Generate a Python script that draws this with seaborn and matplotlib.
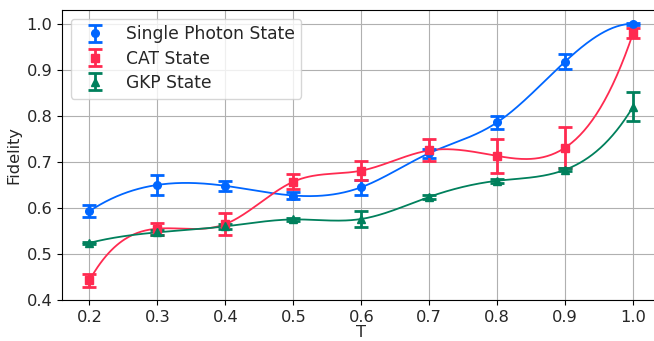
import numpy as np
import pandas as pd
import matplotlib
matplotlib.use("Agg")
import matplotlib.pyplot as plt
import seaborn as sns

T = [0.2, 0.3, 0.4, 0.5, 0.6, 0.7, 0.8, 0.9, 1.0]
single_photon = [0.593, 0.650, 0.648, 0.627, 0.645, 0.719, 0.786, 0.918, 1.000]
single_photon_err = [0.013, 0.021, 0.011, 0.008, 0.016, 0.010, 0.014, 0.016, 0.002]
cat = [0.443, 0.555, 0.565, 0.657, 0.681, 0.725, 0.713, 0.731, 0.980]
cat_err = [0.014, 0.013, 0.024, 0.016, 0.020, 0.024, 0.037, 0.044, 0.010]
gkp = [0.524, 0.547, 0.560, 0.575, 0.576, 0.624, 0.659, 0.683, 0.820]
gkp_err = [0.003, 0.005, 0.005, 0.004, 0.017, 0.004, 0.004, 0.003, 0.031]

labels = ["Single Photon State", "CAT State", "GKP State"]
colors = ["#0066ff", "#ff2a50", "#00805c"]
markers = ["o", "s", "^"]


def spline(x, y, xs):
    x = np.asarray(x, float)
    y = np.asarray(y, float)
    n = len(x)
    h = np.diff(x)
    A = np.zeros((n, n))
    b = np.zeros(n)
    # not-a-knot
    A[0, 0] = h[1]; A[0, 1] = -(h[0] + h[1]); A[0, 2] = h[0]
    A[-1, -3] = h[-1]; A[-1, -2] = -(h[-2] + h[-1]); A[-1, -1] = h[-2]
    for i in range(1, n - 1):
        A[i, i - 1] = h[i - 1]
        A[i, i] = 2 * (h[i - 1] + h[i])
        A[i, i + 1] = h[i]
        b[i] = 6 * ((y[i + 1] - y[i]) / h[i] - (y[i] - y[i - 1]) / h[i - 1])
    M = np.linalg.solve(A, b)
    idx = np.clip(np.searchsorted(x, xs) - 1, 0, n - 2)
    x0, x1 = x[idx], x[idx + 1]
    hh = x1 - x0
    return (M[idx] * (x1 - xs) ** 3 / (6 * hh) + M[idx + 1] * (xs - x0) ** 3 / (6 * hh)
            + (y[idx] / hh - M[idx] * hh / 6) * (x1 - xs)
            + (y[idx + 1] / hh - M[idx + 1] * hh / 6) * (xs - x0))


sns.set_style("ticks")
plt.rcParams["font.family"] = ["DejaVu Sans"]
plt.rcParams["font.size"] = 11.7

fig = plt.figure(figsize=(6.54, 3.41), dpi=100)
ax = fig.add_axes([62.3 / 654, 41 / 341, 598 / 654, 290 / 341])

xs = np.linspace(min(T), max(T), 400)
series = [(single_photon, single_photon_err), (cat, cat_err), (gkp, gkp_err)]
for (vals, errs), lab, c, m in zip(series, labels, colors, markers):
    df = pd.DataFrame({"T": xs, "F": spline(T, vals, xs)})
    sns.lineplot(data=df, x="T", y="F", color=c, lw=1.3, ax=ax, legend=False, zorder=2)
    ax.errorbar(T, vals, yerr=errs, fmt=m, color=c, ms=5.5, elinewidth=2,
                capsize=5, capthick=2, label=lab, zorder=3)

ax.set_xlim(0.16, 1.04)
ax.set_ylim(0.4, 1.03)
ax.set_xticks(T)
ax.set_xticklabels([f"{t:.1f}" for t in T])
ax.set_yticks([0.4, 0.5, 0.6, 0.7, 0.8, 0.9, 1.0])
ax.grid(True, color="#b0b0b0", lw=0.8)
ax.tick_params(labelsize=11.7, length=3.5, width=0.8, color="black", pad=3.5)
for s in ax.spines.values():
    s.set_color("black")
    s.set_linewidth(0.8)
ax.set_xlabel("T", fontsize=11.7, labelpad=0)
ax.set_ylabel("Fidelity", fontsize=11.7, labelpad=4)
ax.legend(loc="upper left", fontsize=12.3, frameon=True, labelspacing=0.36)

fig.savefig("out.png", dpi=100)
